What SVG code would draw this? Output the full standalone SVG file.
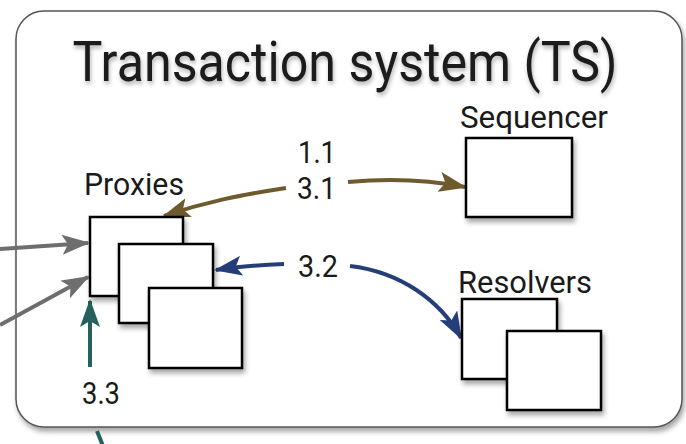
<svg xmlns="http://www.w3.org/2000/svg" width="686" height="444" viewBox="0 0 686 444">
<style>
.lbl{font-family:Roboto,"Liberation Sans",sans-serif;font-size:31px;fill:#1a1a1a}
.box{fill:#fff;stroke:#000;stroke-width:2.5}
.sh{filter:url(#ds)}
</style>
<defs>
<filter id="ds" x="-20%" y="-20%" width="150%" height="150%">
<feDropShadow dx="2" dy="4" stdDeviation="2.5" flood-color="#000" flood-opacity="0.35"/>
</filter>
<filter id="ts" x="-5%" y="-20%" width="110%" height="150%">
<feDropShadow dx="1" dy="3" stdDeviation="2" flood-color="#000" flood-opacity="0.3"/>
</filter>
<marker id="mBrown" viewBox="0 0 14 10" refX="13" refY="5" markerWidth="28" markerHeight="20" markerUnits="userSpaceOnUse" orient="auto"><path d="M0,0 L14,5 L0,10 L3,5 Z" fill="#6e5a2c"/></marker>
<marker id="mBlue" viewBox="0 0 14 10" refX="13" refY="5" markerWidth="28" markerHeight="20" markerUnits="userSpaceOnUse" orient="auto"><path d="M0,0 L14,5 L0,10 L3,5 Z" fill="#263e78"/></marker>
<marker id="mGray" viewBox="0 0 14 10" refX="13" refY="5" markerWidth="28" markerHeight="20" markerUnits="userSpaceOnUse" orient="auto"><path d="M0,0 L14,5 L0,10 L3,5 Z" fill="#6e6e6e"/></marker>
<marker id="mTeal" viewBox="0 0 14 10" refX="13" refY="5" markerWidth="28" markerHeight="20" markerUnits="userSpaceOnUse" orient="auto"><path d="M0,0 L14,5 L0,10 L3,5 Z" fill="#24605e"/></marker>
</defs>
<rect width="686" height="444" fill="#fff"/>
<g id="ts-container">
<rect x="16" y="11" width="666" height="416" rx="28" fill="#fff" stroke="#555" stroke-width="1.5" filter="url(#ds)"/>
<text x="345" y="81" text-anchor="middle" font-family="Roboto,'Liberation Sans',sans-serif" font-size="56" fill="#1a1a1a" textLength="545" lengthAdjust="spacingAndGlyphs" filter="url(#ts)">Transaction system (TS)</text>
</g>
<g id="connectors" fill="none" stroke-width="4">
<path d="M286,188 C240,195 205,202 164,216" stroke="#6e5a2c" marker-end="url(#mBrown)"/>
<path d="M348,182 C390,178 430,180 465,187" stroke="#6e5a2c" marker-end="url(#mBrown)"/>
<path d="M284,264 C260,265 240,266 216,270" stroke="#263e78" marker-end="url(#mBlue)"/>
<path d="M350,266 C400,272 440,300 461,338" stroke="#263e78" marker-end="url(#mBlue)"/>
<path d="M0,249 L88,243" stroke="#6e6e6e" marker-end="url(#mGray)"/>
<path d="M0,325 L88,277" stroke="#6e6e6e" marker-end="url(#mGray)"/>
<path d="M90,367 L90,301" stroke="#24605e" marker-end="url(#mTeal)"/>
<path d="M97,431 L103,446" stroke="#24605e"/>
</g>
<g id="labels" class="lbl">
<text x="298" y="163" class="lbl" textLength="38" lengthAdjust="spacingAndGlyphs">1.1</text>
<text x="297" y="199" class="lbl" textLength="39" lengthAdjust="spacingAndGlyphs">3.1</text>
<text x="298" y="277" class="lbl" textLength="40" lengthAdjust="spacingAndGlyphs">3.2</text>
<text x="82" y="404" class="lbl" textLength="38" lengthAdjust="spacingAndGlyphs">3.3</text>
</g>
<g id="sequencer">
<text x="460" y="128" class="lbl" textLength="148" lengthAdjust="spacingAndGlyphs">Sequencer</text>
<rect x="466" y="138" width="106" height="79" class="box sh"/>
</g>
<g id="proxies">
<text x="84" y="195" class="lbl" textLength="100" lengthAdjust="spacingAndGlyphs">Proxies</text>
<rect x="90" y="217" width="93" height="79" class="box sh"/>
<rect x="119" y="244" width="94" height="79" class="box sh"/>
<rect x="149" y="288" width="93" height="80" class="box sh"/>
</g>
<g id="resolvers">
<text x="458" y="293" class="lbl" textLength="134" lengthAdjust="spacingAndGlyphs">Resolvers</text>
<rect x="462" y="299" width="95" height="80" class="box sh"/>
<rect x="507" y="331" width="94" height="79" class="box sh"/>
</g>
</svg>
